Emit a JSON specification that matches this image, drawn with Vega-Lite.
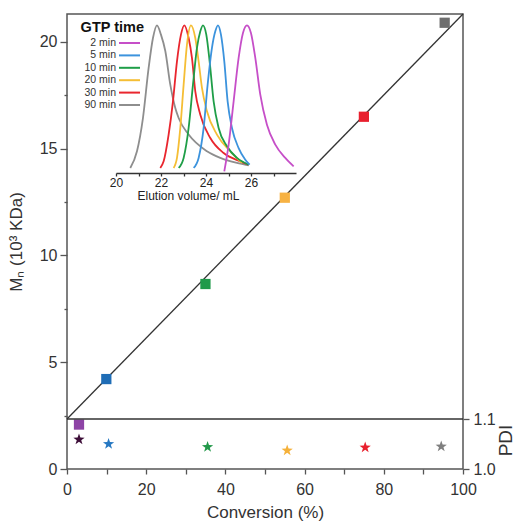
{
  "$schema": "https://vega.github.io/schema/vega-lite/v6.json",
  "width": 396,
  "height": 455,
  "autosize": {"type": "none"},
  "padding": {"left": 67, "top": 14, "right": 53, "bottom": 52},
  "background": "white",
  "config": {
    "font": "Liberation Sans",
    "view": {"stroke": "#555", "strokeWidth": 1.5},
    "axis": {"labelFont": "Liberation Sans", "titleFont": "Liberation Sans", "labelColor": "#333", "titleColor": "#333", "titleFontWeight": "normal", "tickColor": "#555", "tickWidth": 1.3, "grid": false, "domain": false, "labelFlush": false}
  },
  "datasets": {
    "fit": [{"conv": 0, "mn": 2.34}, {"conv": 100, "mn": 21.3}],
    "divider": [{"pdi": 1.1}],
    "mn": [
      {"time": "2 min", "conv": 3.03, "mn": 2.08},
      {"time": "5 min", "conv": 9.93, "mn": 4.21},
      {"time": "10 min", "conv": 34.96, "mn": 8.66},
      {"time": "20 min", "conv": 55.0, "mn": 12.7},
      {"time": "30 min", "conv": 74.97, "mn": 16.49},
      {"time": "90 min", "conv": 95.37, "mn": 20.89}
    ],
    "pdi": [
      {"time": "2 min", "conv": 3.03, "pdi": 1.059},
      {"time": "5 min", "conv": 10.5, "pdi": 1.05},
      {"time": "10 min", "conv": 35.5, "pdi": 1.044},
      {"time": "20 min", "conv": 55.6, "pdi": 1.037},
      {"time": "30 min", "conv": 75.3, "pdi": 1.043},
      {"time": "90 min", "conv": 94.5, "pdi": 1.045}
    ],
    "gpc": [
      {"time": "90 min", "v": 20.635, "i": 0.034},
      {"time": "90 min", "v": 20.932, "i": 0.147},
      {"time": "90 min", "v": 21.198, "i": 0.372},
      {"time": "90 min", "v": 21.45, "i": 0.711},
      {"time": "90 min", "v": 21.643, "i": 0.914},
      {"time": "90 min", "v": 21.821, "i": 1.0},
      {"time": "90 min", "v": 21.998, "i": 0.937},
      {"time": "90 min", "v": 22.191, "i": 0.826},
      {"time": "90 min", "v": 22.413, "i": 0.598},
      {"time": "90 min", "v": 22.635, "i": 0.44},
      {"time": "90 min", "v": 22.784, "i": 0.372},
      {"time": "90 min", "v": 23.228, "i": 0.26},
      {"time": "90 min", "v": 24.043, "i": 0.147},
      {"time": "90 min", "v": 24.635, "i": 0.102},
      {"time": "90 min", "v": 25.376, "i": 0.068},
      {"time": "90 min", "v": 25.895, "i": 0.052},
      {"time": "30 min", "v": 21.969, "i": 0.034},
      {"time": "30 min", "v": 22.117, "i": 0.079},
      {"time": "30 min", "v": 22.339, "i": 0.26},
      {"time": "30 min", "v": 22.532, "i": 0.485},
      {"time": "30 min", "v": 22.71, "i": 0.756},
      {"time": "30 min", "v": 22.887, "i": 0.937},
      {"time": "30 min", "v": 23.035, "i": 1.0},
      {"time": "30 min", "v": 23.228, "i": 0.914},
      {"time": "30 min", "v": 23.376, "i": 0.779},
      {"time": "30 min", "v": 23.524, "i": 0.553},
      {"time": "30 min", "v": 23.747, "i": 0.395},
      {"time": "30 min", "v": 24.191, "i": 0.237},
      {"time": "30 min", "v": 24.784, "i": 0.135},
      {"time": "30 min", "v": 25.524, "i": 0.079},
      {"time": "30 min", "v": 25.895, "i": 0.056},
      {"time": "20 min", "v": 22.561, "i": 0.034},
      {"time": "20 min", "v": 22.71, "i": 0.102},
      {"time": "20 min", "v": 22.858, "i": 0.305},
      {"time": "20 min", "v": 23.006, "i": 0.598},
      {"time": "20 min", "v": 23.154, "i": 0.869},
      {"time": "20 min", "v": 23.332, "i": 1.0},
      {"time": "20 min", "v": 23.524, "i": 0.914},
      {"time": "20 min", "v": 23.672, "i": 0.756},
      {"time": "20 min", "v": 23.821, "i": 0.576},
      {"time": "20 min", "v": 24.043, "i": 0.418},
      {"time": "20 min", "v": 24.487, "i": 0.26},
      {"time": "20 min", "v": 25.08, "i": 0.147},
      {"time": "20 min", "v": 25.598, "i": 0.068},
      {"time": "10 min", "v": 22.784, "i": 0.034},
      {"time": "10 min", "v": 23.006, "i": 0.102},
      {"time": "10 min", "v": 23.228, "i": 0.305},
      {"time": "10 min", "v": 23.421, "i": 0.598},
      {"time": "10 min", "v": 23.598, "i": 0.847},
      {"time": "10 min", "v": 23.747, "i": 0.959},
      {"time": "10 min", "v": 23.865, "i": 1.0},
      {"time": "10 min", "v": 24.013, "i": 0.937},
      {"time": "10 min", "v": 24.161, "i": 0.756},
      {"time": "10 min", "v": 24.339, "i": 0.485},
      {"time": "10 min", "v": 24.561, "i": 0.305},
      {"time": "10 min", "v": 24.932, "i": 0.181},
      {"time": "10 min", "v": 25.376, "i": 0.102},
      {"time": "10 min", "v": 25.895, "i": 0.056},
      {"time": "5 min", "v": 23.45, "i": 0.034},
      {"time": "5 min", "v": 23.672, "i": 0.102},
      {"time": "5 min", "v": 23.895, "i": 0.305},
      {"time": "5 min", "v": 24.073, "i": 0.598},
      {"time": "5 min", "v": 24.265, "i": 0.847},
      {"time": "5 min", "v": 24.413, "i": 0.959},
      {"time": "5 min", "v": 24.532, "i": 1.0},
      {"time": "5 min", "v": 24.665, "i": 0.937},
      {"time": "5 min", "v": 24.813, "i": 0.756},
      {"time": "5 min", "v": 24.961, "i": 0.485},
      {"time": "5 min", "v": 25.154, "i": 0.305},
      {"time": "5 min", "v": 25.45, "i": 0.169},
      {"time": "5 min", "v": 25.747, "i": 0.09},
      {"time": "5 min", "v": 25.939, "i": 0.056},
      {"time": "2 min", "v": 24.813, "i": 0.011},
      {"time": "2 min", "v": 25.006, "i": 0.192},
      {"time": "2 min", "v": 25.228, "i": 0.485},
      {"time": "2 min", "v": 25.45, "i": 0.779},
      {"time": "2 min", "v": 25.643, "i": 0.948},
      {"time": "2 min", "v": 25.821, "i": 1.0},
      {"time": "2 min", "v": 25.998, "i": 0.948},
      {"time": "2 min", "v": 26.191, "i": 0.779},
      {"time": "2 min", "v": 26.413, "i": 0.53},
      {"time": "2 min", "v": 26.709, "i": 0.327},
      {"time": "2 min", "v": 27.08, "i": 0.192},
      {"time": "2 min", "v": 27.524, "i": 0.102},
      {"time": "2 min", "v": 27.895, "i": 0.045}
    ]
  },
  "layer": [
    {
      "encoding": {
        "x": {"field": "conv", "type": "quantitative",
          "scale": {"domain": [0, 100], "nice": false},
          "axis": {"values": [0, 10, 20, 30, 40, 50, 60, 70, 80, 90, 100],
            "labelExpr": "datum.value % 20 === 0 ? datum.label : ''",
            "title": "Conversion (%)", "titleFontSize": 17, "labelFontSize": 16,
            "tickSize": 5, "labelPadding": 7, "titlePadding": 7}},
        "y": {"field": "mn", "type": "quantitative",
          "scale": {"domain": [0, 21.3], "nice": false, "zero": false},
          "axis": {"values": [0, 2.5, 5, 7.5, 10, 12.5, 15, 17.5, 20],
            "labelExpr": "datum.value % 5 === 0 ? datum.label : ''",
            "tickSize": {"condition": {"test": "datum.value % 5 !== 0", "value": 3}, "value": 7},
            "title": "Mₙ (10³ KDa)", "titleFontSize": 17, "labelFontSize": 16,
            "labelPadding": 3, "titlePadding": 14}}
      },
      "layer": [
        {"data": {"name": "fit"}, "mark": {"type": "line", "color": "#333", "strokeWidth": 1.3}},
        {"data": {"name": "mn"}, "mark": {"type": "point", "shape": "square", "filled": true, "size": 105, "opacity": 1},
          "encoding": {"color": {"field": "time", "type": "nominal",
            "scale": {"domain": ["2 min", "5 min", "10 min", "20 min", "30 min", "90 min"],
              "range": ["#8E44A6", "#1F6DB6", "#1F9A4A", "#F7B243", "#E8202E", "#6F6F6F"]},
            "legend": null}}}
      ]
    },
    {
      "encoding": {
        "y": {"field": "pdi", "type": "quantitative",
          "scale": {"domain": [1.0, 1.91], "nice": false, "zero": false},
          "axis": {"orient": "right", "values": [1.0, 1.1], "format": ".1f",
            "title": "PDI", "titleFontSize": 19, "labelFontSize": 16, "tickSize": 6,
            "labelPadding": 4, "titleAngle": 270, "titleX": 42, "titleY": 426,
            "titleAlign": "center", "titleBaseline": "middle"}}
      },
      "layer": [
        {"data": {"name": "divider"}, "mark": {"type": "rule", "color": "#333", "strokeWidth": 1.3}},
        {"data": {"name": "pdi"},
          "mark": {"type": "point", "shape": "M0,-1L0.235,-0.324L0.951,-0.309L0.38,0.124L0.588,0.809L0,0.4L-0.588,0.809L-0.38,0.124L-0.951,-0.309L-0.235,-0.324Z", "filled": true, "size": 140, "opacity": 1},
          "encoding": {
            "x": {"field": "conv", "type": "quantitative", "scale": {"domain": [0, 100], "nice": false}, "axis": null},
            "color": {"field": "time", "type": "nominal",
              "scale": {"domain": ["2 min", "5 min", "10 min", "20 min", "30 min", "90 min"],
                "range": ["#3D0E38", "#2678C2", "#23994A", "#F5B13A", "#E8202E", "#7F7F7F"]},
              "legend": null}
          }}
      ]
    },
    {
      "data": {"name": "gpc"},
      "mark": {"type": "line", "strokeWidth": 1.8, "interpolate": "monotone"},
      "encoding": {
        "x": {"field": "v", "type": "quantitative",
          "scale": {"domain": [20, 28], "range": [49, 229], "nice": false, "zero": false},
          "axis": {"orient": "bottom", "offset": -296, "values": [20, 21, 22, 23, 24, 25, 26, 27],
            "labelExpr": "datum.value % 2 === 0 ? datum.label : ''",
            "title": "Elution volume/ mL", "titleFontSize": 12, "labelFontSize": 12,
            "tickSize": 3, "labelPadding": 1, "titlePadding": 2, "titleX": 121,
            "domain": true, "domainColor": "#333", "domainWidth": 1.5, "tickColor": "#333",
            "labelColor": "#222", "titleColor": "#222"}},
        "y": {"field": "i", "type": "quantitative",
          "scale": {"domain": [0, 1], "range": [159, 11.3], "nice": false}, "axis": null},
        "color": {"field": "time", "type": "nominal",
          "scale": {"domain": ["2 min", "5 min", "10 min", "20 min", "30 min", "90 min"],
            "range": ["#C64FC8", "#3C93DD", "#1F9E48", "#F5BE35", "#E9262E", "#8E8E8E"]},
          "legend": {"orient": "none", "legendX": 13, "legendY": 7, "title": "GTP time",
            "titleFontSize": 14.5, "titleFontWeight": "bold", "titleAnchor": "end", "titleColor": "#111",
            "symbolType": "M-2,0L2,0", "symbolSize": 110, "symbolStrokeWidth": 2, "symbolOffset": 0,
            "labelAlign": "right", "labelOffset": -20, "labelFontSize": 10.5, "labelFont": "Liberation Sans Narrow, Liberation Sans", "labelColor": "#333",
            "rowPadding": 0.4, "titlePadding": 1, "padding": 0}}
      }
    }
  ],
  "resolve": {"scale": {"x": "independent", "y": "independent", "color": "independent"}}
}
